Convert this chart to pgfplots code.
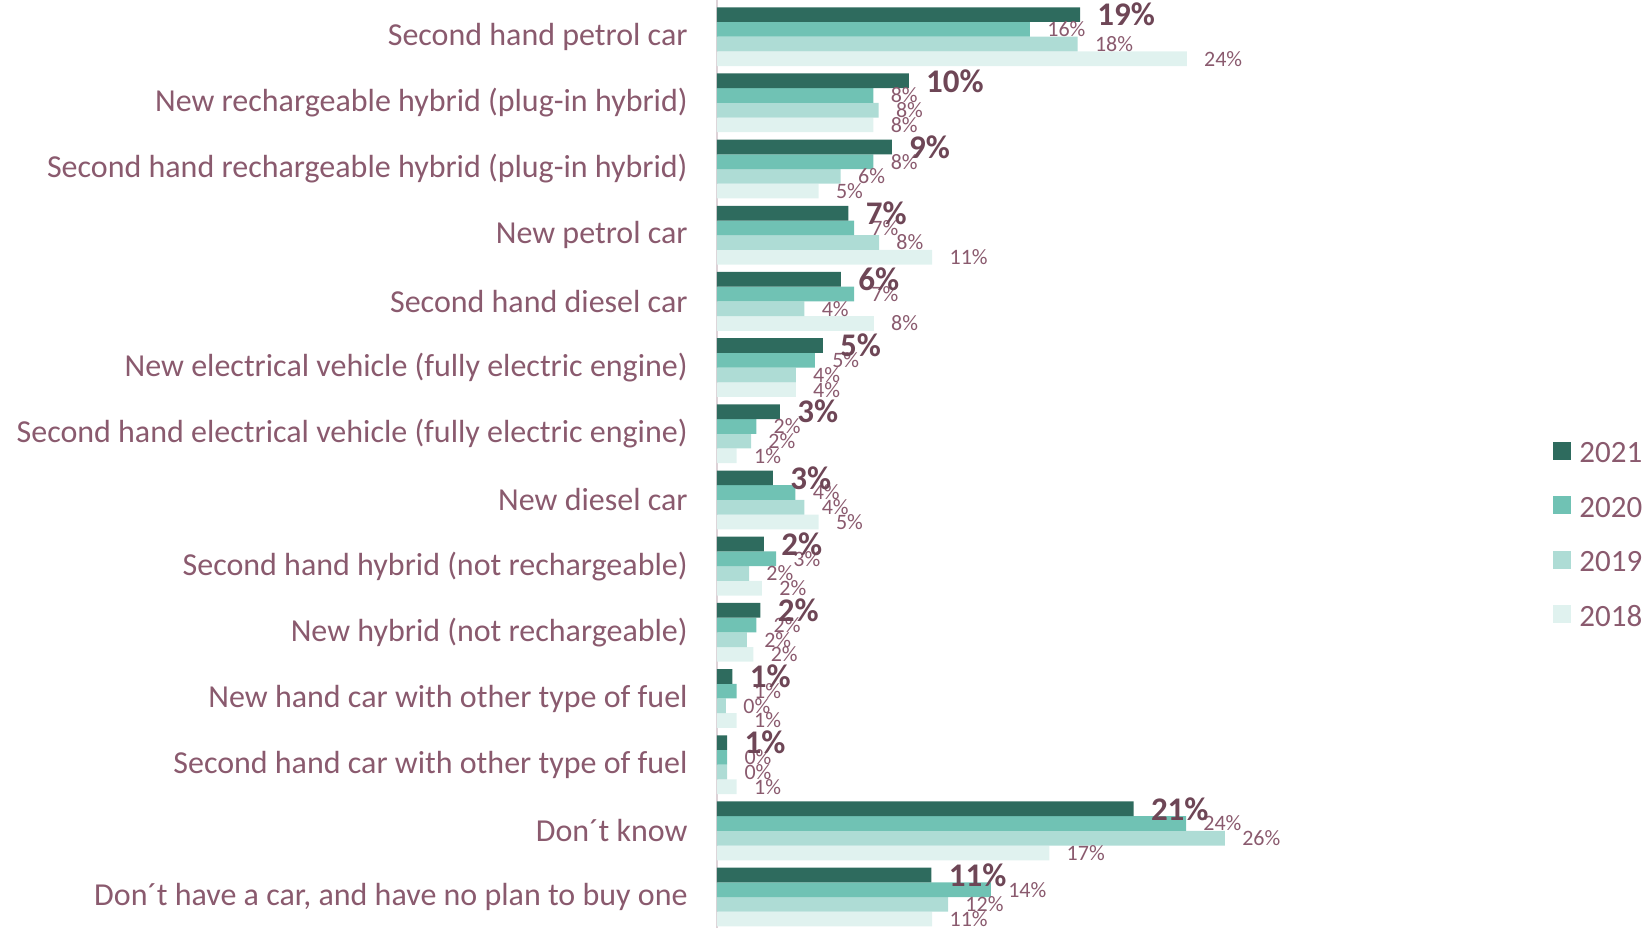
\documentclass[border=0pt]{standalone}
\usepackage{pgfplots}
\pgfplotsset{compat=1.18}
\usepackage{fontspec}
\setmainfont{Carlito}
\definecolor{c21}{HTML}{2E6B5E}
\definecolor{c20}{HTML}{70C2B4}
\definecolor{c19}{HTML}{AEDCD5}
\definecolor{c18}{HTML}{E0F2EF}
\definecolor{txt}{HTML}{8A5A6E}
\definecolor{txtb}{HTML}{6E4656}
\definecolor{axc}{HTML}{DDD2D7}

\begin{document}
\begin{tikzpicture}
\begin{axis}[
    name=ax,
    xbar=0pt,
    scale only axis,
    width=254.15pt, height=464pt,
    xmin=0, xmax=26,
    ymin=-0.468, ymax=13.554,
    bar width=7.35pt,
    axis x line=none,
    axis y line*=left,
    y axis line style={draw=axc, line width=1pt},
    ytick={0,...,13},
    yticklabels={{Don´t have a car, and have no plan to buy one}, Don´t know,
        Second hand car with other type of fuel, New hand car with other type of fuel,
        New hybrid (not rechargeable), Second hand hybrid (not rechargeable),
        New diesel car, Second hand electrical vehicle (fully electric engine),
        New electrical vehicle (fully electric engine), Second hand diesel car,
        New petrol car, Second hand rechargeable hybrid (plug-in hybrid),
        New rechargeable hybrid (plug-in hybrid), Second hand petrol car},
    major tick length=0pt,
    yticklabel style={font=\fontsize{16}{18}\selectfont, text=txt, anchor=east, inner sep=0pt, xshift=-14.5pt},
    point meta=explicit symbolic,
    nodes near coords,
    nodes near coords style={font=\fontsize{11}{12}\selectfont, text=txt, anchor=west, inner sep=0pt, xshift=8.5pt},
    reverse legend,
    legend image code/.code={\fill[#1, draw=none] (0pt,-3.2pt) rectangle (9pt,5.8pt);},
    legend style={at={(1.6447,0.4246)}, anchor=west, draw=none, fill=none,
        inner sep=0pt, font=\fontsize{15.5}{18}\selectfont, text=txt,
        row sep=16.7pt, column sep=4pt,
        nodes={inner sep=0pt, text height=9.5pt, text depth=0pt}},
]
% 2018
\addplot[fill=c18, draw=none] coordinates {
    (24.03,13) [24\%] (8.0,12) [8\%] (5.20,11) [5\%] (11.01,10) [11\%]
    (8.02,9) [8\%] (4.03,8) [4\%] (1.01,7) [1\%] (5.20,6) [5\%]
    (2.30,5) [2\%] (1.86,4) [2\%] (1.01,3) [1\%] (1.01,2) [1\%]
    (17.0,1) [17\%] (11.01,0) [11\%]};
% 2019
\addplot[fill=c19, draw=none] coordinates {
    (18.45,13) [18\%] (8.27,12) [8\%] (6.33,11) [6\%] (8.29,10) [8\%]
    (4.47,9) [4\%] (4.03,8) [4\%] (1.74,7) [2\%] (4.47,6) [4\%]
    (1.64,5) [2\%] (1.53,4) [2\%] (0.46,3) [0\%] (0.52,2) [0\%]
    (25.98,1) [26\%] (11.82,0) [12\%]};
% 2020
\addplot[fill=c20, draw=none] coordinates {
    (16.01,13) [16\%] (8.0,12) [8\%] (8.0,11) [8\%] (7.01,10) [7\%]
    (7.01,9) [7\%] (5.01,8) [5\%] (2.01,7) [2\%] (4.01,6) [4\%]
    (3.02,5) [3\%] (2.01,4) [2\%] (1.01,3) [1\%] (0.52,2) [0\%]
    (23.99,1) [24\%] (14.01,0) [14\%]};
% 2021
\addplot[fill=c21, draw=none, nodes near coords style={font=\bfseries\fontsize{16.5}{18}\selectfont, text=txtb}] coordinates {
    (18.57,13) [19\%] (9.81,12) [10\%] (8.94,11) [9\%] (6.72,10) [7\%]
    (6.34,9) [6\%] (5.41,8) [5\%] (3.22,7) [3\%] (2.86,6) [3\%]
    (2.40,5) [2\%] (2.22,4) [2\%] (0.79,3) [1\%] (0.52,2) [1\%]
    (21.31,1) [21\%] (10.97,0) [11\%]};
\legend{2018,2019,2020,2021}
\end{axis}
\pgfresetboundingbox
\path[use as bounding box] (ax.south west) ++(-358.5pt,0pt) rectangle ++(824pt,464pt);
\end{tikzpicture}
\end{document}
